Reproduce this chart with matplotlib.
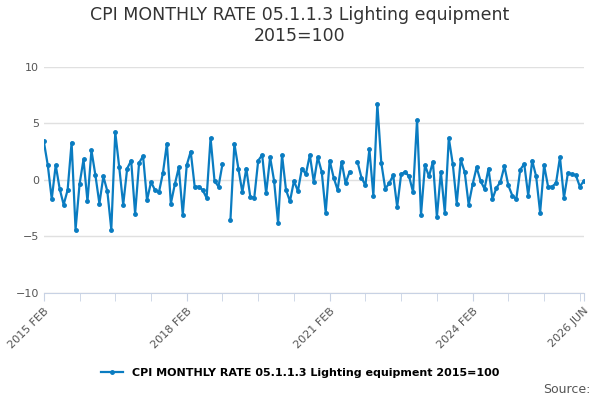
import numpy as np
import matplotlib.pyplot as plt

series_name = "CPI MONTHLY RATE 05.1.1.3 Lighting equipment 2015=100"
values = [3.4, 1.3, -1.7, 1.3, -0.8, -2.2, -0.9, 3.3, -4.4, -0.4,
          1.8, -1.9, 2.6, 0.4, -2.1, 0.3, -1.0, -4.4, 4.2, 1.1,
          -2.2, 1.0, 1.7, -3.0, 1.5, 2.1, -1.8, -0.2, -0.9, -1.1,
          0.6, 3.2, -2.1, -0.4, 1.1, -3.1, 1.3, 2.5, -0.6, -0.6,
          -0.9, -1.6, 3.7, -0.1, -0.6, 1.4, np.nan, -3.6, 3.2, 1.0,
          -1.1, 1.0, -1.5, -1.6, 1.7, 2.2, -1.2, 2.0, -0.1, -3.8,
          2.2, -0.9, -1.9, -0.1, -1.0, 1.0, 0.5, 2.2, -0.2, 2.0,
          0.7, -2.9, 1.7, 0.2, -0.9, 1.6, -0.3, 0.7, np.nan, 1.6,
          0.2, -0.5, 2.7, -1.4, 6.7, 1.5, -0.8, -0.3, 0.4, -2.4,
          0.5, 0.7, 0.3, -1.1, 5.3, -3.1, 1.3, 0.3, 1.6, -3.3,
          0.7, -2.9, 3.7, 1.4, -2.1, 1.8, 0.7, -2.2, -0.4, 1.1,
          -0.1, -0.8, 1.0, -1.7, -0.7, -0.2, 1.2, -0.5, -1.4, -1.7,
          0.9, 1.4, -1.4, 1.7, 0.3, -2.9, 1.3, -0.6, -0.6, -0.3,
          2.0, -1.6, 0.6, 0.5, 0.4, -0.6, -0.1]
tick_pos = [0, 36, 72, 108, 136]
tick_labels = ["2015 FEB", "2018 FEB", "2021 FEB", "2024 FEB", "2026 JUN"]

color = "#0a7cc1"
fig = plt.figure(figsize=(6, 4), dpi=100)
ax = fig.add_axes([0.073, 0.268, 0.9, 0.565])
x = np.arange(len(values))
ax.plot(x, values, color=color, lw=1.6, marker="o", ms=2.5, label=series_name)

ax.set_ylim(-10, 10)
ax.set_yticks([-10, -5, 0, 5, 10])
ax.set_xlim(0, 136)
ax.set_xticks(np.arange(0, 137, 9), minor=True)
ax.set_xticks(tick_pos, tick_labels)
ax.tick_params(axis="x", which="both", length=6, color="#c8d2e4")
ax.tick_params(axis="y", length=0, labelsize=8, colors="#555555")
for lab in ax.get_xticklabels():
    lab.set_rotation(45)
    lab.set_ha("right")
    lab.set_rotation_mode("anchor")
    lab.set_fontsize(8)
    lab.set_color("#555555")
ax.grid(axis="y", color="#e0e0e0", lw=1)
for s in ["top", "right", "left"]:
    ax.spines[s].set_visible(False)
ax.spines["bottom"].set_color("#c8d2e4")

fig.suptitle("CPI MONTHLY RATE 05.1.1.3 Lighting equipment\n2015=100",
             fontsize=12.5, color="#333333", y=0.985)
fig.legend(loc="lower center", bbox_to_anchor=(0.5, 0.03), frameon=False,
           prop={"size": 8, "weight": "bold"}, handlelength=2)
fig.text(0.985, 0.01, "Source:", ha="right", va="bottom", fontsize=9, color="#555555")
fig.savefig("out.png")
